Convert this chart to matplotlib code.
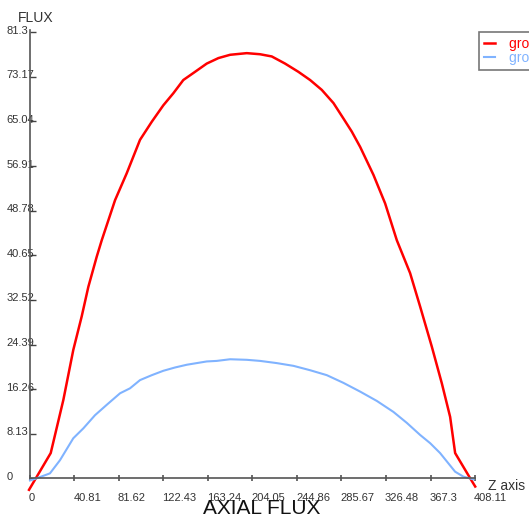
import matplotlib
matplotlib.use('Agg')
import matplotlib.pyplot as plt
import matplotlib.transforms as mtransforms

plt.rcParams['font.family'] = ['Liberation Sans', 'DejaVu Sans']

# red series
red_z = [-0.9, 19.0, 30.6, 39.7, 47.4, 53.5, 61.2, 65.8, 78.0, 88.7, 100.9, 111.7,
         122.3, 131.5, 140.6, 151.4, 162.1, 172.8, 183.5, 198.8, 211.0, 221.7, 233.9,
         246.1, 256.9, 267.6, 278.3, 287.4, 295.1, 302.8, 315.0, 325.7, 336.4, 348.6,
         357.8, 368.5, 377.7, 385.3, 389.9, 403.7, 408.3]
red_flux = [-2.1, 4.6, 14.3, 23.4, 29.5, 34.9, 40.4, 43.4, 50.7, 55.6, 61.7, 65.0,
            68.0, 70.2, 72.6, 74.1, 75.6, 76.6, 77.2, 77.5, 77.3, 76.9, 75.6,
            74.1, 72.6, 70.8, 68.4, 65.6, 63.2, 60.4, 55.3, 50.1, 43.4, 37.4,
            31.3, 24.0, 17.3, 11.2, 4.6, 0.0, -1.5]

# blue series
blue_z = [0.0, 6.1, 18.3, 27.5, 39.7, 48.9, 59.6, 70.4, 82.6, 91.7, 100.9, 111.7,
          122.3, 133.0, 143.8, 162.1, 171.3, 183.5, 198.8, 211.0, 226.3, 241.6, 256.9,
          272.2, 287.4, 302.8, 318.1, 333.3, 345.6, 357.8, 367.0, 376.1, 383.8, 389.9,
          397.5, 406.7]
blue_flux = [-0.4, 0.0, 0.9, 3.3, 7.3, 9.1, 11.5, 13.4, 15.5, 16.4, 17.9, 18.8,
             19.6, 20.2, 20.7, 21.3, 21.4, 21.7, 21.6, 21.4, 21.0, 20.5, 19.7,
             18.8, 17.4, 15.8, 14.1, 12.1, 10.1, 7.9, 6.4, 4.6, 2.7, 1.2,
             0.3, -0.2]

x_ticks = [0, 40.81, 81.62, 122.43, 163.24, 204.05, 244.86, 285.67, 326.48, 367.3, 408.11]
x_labels = ['0', '40.81', '81.62', '122.43', '163.24', '204.05', '244.86', '285.67',
            '326.48', '367.3', '408.11']
y_ticks = [0, 8.13, 16.26, 24.39, 32.52, 40.65, 48.78, 56.91, 65.04, 73.17, 81.3]
y_labels = ['0', '8.13', '16.26', '24.39', '32.52', '40.65', '48.78', '56.91', '65.04',
            '73.17', '81.3']
series_names = ['group 1', 'group 2']

W, H = 529, 521
fig = plt.figure(figsize=(W / 100, H / 100), dpi=100)
ax = fig.add_axes([30 / W, 1 - 478.3 / H, 445 / W, (478.3 - 32.3) / H])

l1, = ax.plot(red_z, red_flux, color='#ff0000', lw=1.8, clip_on=False)
l2, = ax.plot(blue_z, blue_flux, color='#80b3ff', lw=1.5, clip_on=False)

ax.set_xlim(0, 408.11)
ax.set_ylim(0, 81.3)
for s in ['top', 'right']:
    ax.spines[s].set_visible(False)
for s in ['left', 'bottom']:
    ax.spines[s].set_color('#555555')
    ax.spines[s].set_linewidth(1.2)
ax.spines['left'].set_bounds(0, 81.7)

ax.set_xticks(x_ticks, x_labels)
ax.set_yticks(y_ticks, y_labels)
ax.tick_params(axis='x', direction='inout', length=5, width=1.1, color='#444444',
               labelsize=8, labelcolor='#333333', pad=8)
ax.tick_params(axis='y', direction='in', length=4, width=1.0, color='#444444',
               labelsize=8, labelcolor='#333333', pad=17)
for lbl in ax.get_xticklabels():
    lbl.set_horizontalalignment('left')
    lbl.set_transform(lbl.get_transform() + mtransforms.ScaledTranslation(-1 / 100, 0, fig.dpi_scale_trans))
for lbl in ax.get_yticklabels():
    lbl.set_horizontalalignment('left')
    lbl.set_transform(lbl.get_transform() + mtransforms.ScaledTranslation(0, 2.5 / 100, fig.dpi_scale_trans))

fig.text(18 / W, 1 - 18 / H, 'FLUX', fontsize=10, color='#333333', va='center', ha='left')
fig.text(488 / W, 1 - 486 / H, 'Z axis', fontsize=10, color='#333333', va='center', ha='left')
fig.text(262 / W, 1 - 508 / H, 'AXIAL FLUX', fontsize=15, color='#111111', va='center', ha='center')

leg = fig.legend([l1, l2], series_names, loc='upper left',
                 bbox_to_anchor=(479 / W, 1 - 32.3 / H), borderaxespad=0,
                 fontsize=10, handlelength=0.8, handletextpad=1.0,
                 labelspacing=0.0, borderpad=0.35, fancybox=False,
                 labelcolor='linecolor', frameon=True)
leg.get_frame().set_edgecolor('#555555')
leg.get_frame().set_linewidth(1.2)

fig.savefig('out.png', dpi=100)
